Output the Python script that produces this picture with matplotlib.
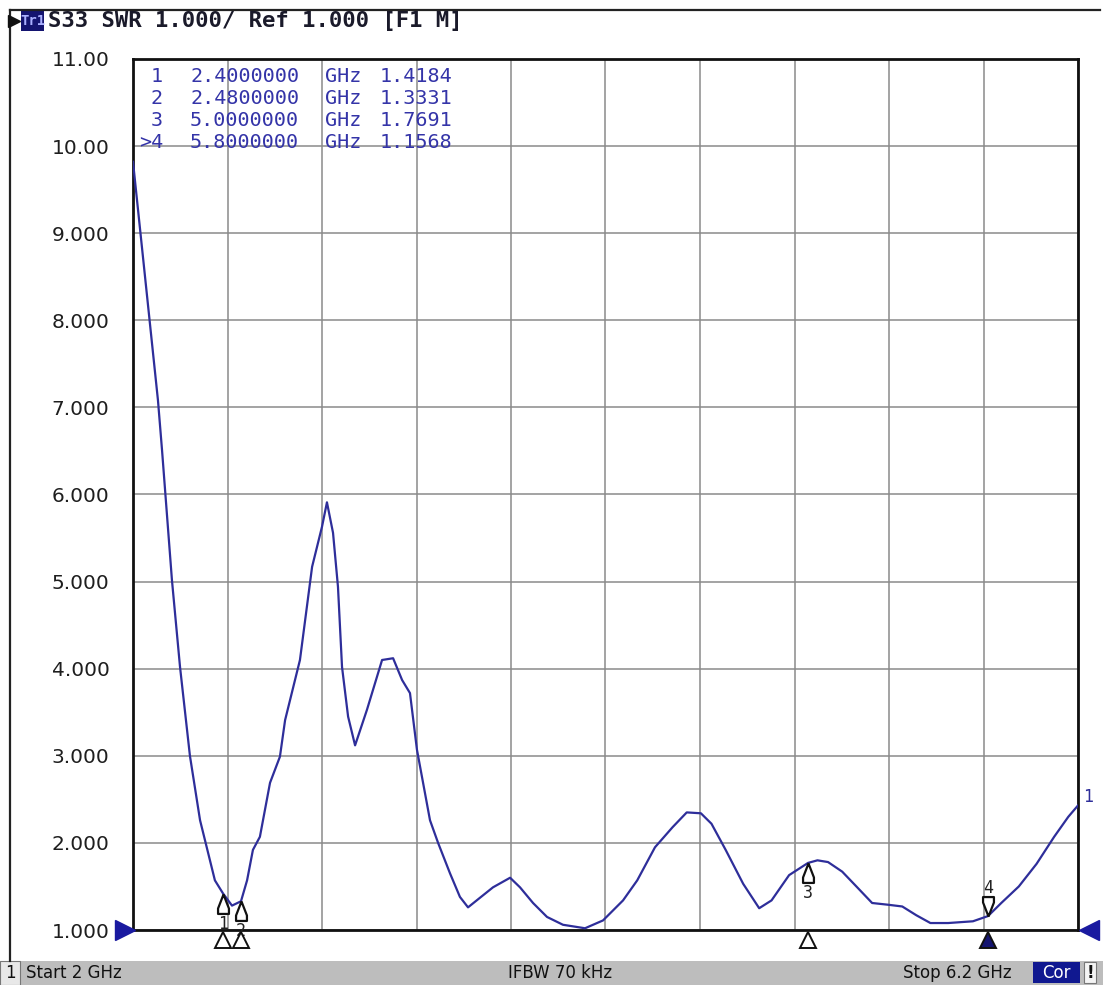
import numpy as np
import matplotlib
matplotlib.use('Agg')
import matplotlib.pyplot as plt
from matplotlib import transforms
from matplotlib.path import Path
from matplotlib.patches import Rectangle
from matplotlib.lines import Line2D

# trace S33 SWR
freq_ghz = [2.000, 2.111, 2.129, 2.173, 2.209, 2.253, 2.298, 2.364, 2.400, 2.440,
            2.480, 2.507, 2.533, 2.564, 2.609, 2.653, 2.676, 2.742, 2.796, 2.840,
            2.862, 2.889, 2.911, 2.929, 2.956, 2.987, 3.040, 3.107, 3.156, 3.196,
            3.231, 3.262, 3.320, 3.356, 3.409, 3.453, 3.489, 3.542, 3.600, 3.676,
            3.720, 3.778, 3.840, 3.911, 4.009, 4.089, 4.178, 4.241, 4.320, 4.398,
            4.461, 4.524, 4.571, 4.634, 4.712, 4.783, 4.838, 4.916, 5.000, 5.042,
            5.089, 5.152, 5.215, 5.285, 5.356, 5.419, 5.481, 5.544, 5.623, 5.733,
            5.800, 5.859, 5.937, 6.016, 6.094, 6.157, 6.200]
swr = [9.82, 7.08, 6.51, 5.02, 4.02, 3.00, 2.26, 1.57, 1.42, 1.28,
       1.33, 1.57, 1.92, 2.07, 2.69, 2.99, 3.41, 4.10, 5.17, 5.63,
       5.91, 5.56, 4.94, 4.02, 3.45, 3.12, 3.53, 4.10, 4.12, 3.87,
       3.72, 3.07, 2.26, 2.00, 1.65, 1.38, 1.26, 1.37, 1.49, 1.60,
       1.49, 1.31, 1.15, 1.06, 1.02, 1.11, 1.34, 1.57, 1.95, 2.18,
       2.35, 2.34, 2.22, 1.92, 1.53, 1.25, 1.34, 1.63, 1.77, 1.80,
       1.78, 1.67, 1.50, 1.31, 1.29, 1.27, 1.17, 1.08, 1.08, 1.10,
       1.16, 1.31, 1.50, 1.76, 2.07, 2.30, 2.43]

# markers
marker_ids = ['1', '2', '3', '4']
marker_freq = [2.4, 2.48, 5.0, 5.8]
marker_swr = [1.4184, 1.3331, 1.7691, 1.1568]
active_marker = 3

start_ghz, stop_ghz = 2.0, 6.2
ref_level = 1.0
y_ticks = [1, 2, 3, 4, 5, 6, 7, 8, 9, 10, 11]
y_ticklabels = ['1.000', '2.000', '3.000', '4.000', '5.000', '6.000',
                '7.000', '8.000', '9.000', '10.00', '11.00']

TRACE = '#2e2e9a'
NAVY = '#141470'
MONO = 'DejaVu Sans Mono'

W, H = 1103, 985
fig = plt.figure(figsize=(W / 100, H / 100), dpi=100)
fig.patch.set_facecolor('white')
ax = fig.add_axes([133 / W, 55 / H, 945 / W, 871 / H])

ax.set_xlim(start_ghz, stop_ghz)
ax.set_ylim(1, 11)
ax.set_xticks(np.linspace(start_ghz, stop_ghz, 11))
ax.set_xticklabels([])
ax.set_yticks(y_ticks)
ax.set_yticklabels(y_ticklabels, fontsize=14.5, color='#1e1e1e', family='DejaVu Sans')
ax.tick_params(length=0, pad=17)
ax.grid(True, color='#8a8a8a', lw=1.1)
for s in ax.spines.values():
    s.set_linewidth(2)
    s.set_color('#111111')

ax.plot(freq_ghz, swr, color=TRACE, lw=1.6, zorder=3)

# marker symbols on the trace
up_mark = Path([(0, 0), (-0.28, -0.72), (-0.28, -1), (0.28, -1), (0.28, -0.72), (0, 0)])
dn_mark = Path([(0, 0), (-0.28, 0.72), (-0.28, 1), (0.28, 1), (0.28, 0.72), (0, 0)])
for i, (mid, f, v) in enumerate(zip(marker_ids, marker_freq, marker_swr)):
    if i == active_marker:
        ax.plot([f], [v], marker=dn_mark, ms=28, mfc='white', mec='#111111', mew=1.6,
                ls='none', zorder=5, clip_on=False)
        ax.annotate(mid, (f, v), xytext=(0, 28), textcoords='offset pixels',
                    ha='center', va='center', fontsize=12, color='#222222', family=MONO)
    else:
        ax.plot([f], [v], marker=up_mark, ms=28, mfc='white', mec='#111111', mew=1.6,
                ls='none', zorder=5, clip_on=False)
        ax.annotate(mid, (f, v), xytext=(0, -30), textcoords='offset pixels',
                    ha='center', va='center', fontsize=12, color='#222222', family=MONO)

# stimulus markers under the x axis
bx = transforms.blended_transform_factory(ax.transData, ax.transAxes)
for i, f in enumerate(marker_freq):
    face = NAVY if i == active_marker else 'white'
    ax.plot([f], [-0.012], marker='^', ms=11, mfc=face, mec='#111111', mew=1.4,
            transform=bx, clip_on=False, ls='none', zorder=6)

# reference level arrows
by = transforms.blended_transform_factory(ax.transAxes, ax.transData)
ax.plot([-0.008], [ref_level], marker='>', ms=14, color='#1a1aa0', transform=by,
        clip_on=False, zorder=6)
ax.plot([1.012], [ref_level], marker='<', ms=14, color='#1a1aa0', transform=by,
        clip_on=False, zorder=6)
ax.annotate('1', (stop_ghz, swr[-1]), xytext=(10, 8), textcoords='offset pixels',
            ha='center', va='center', fontsize=12, color=TRACE, family=MONO,
            annotation_clip=False)

# marker table
row_y = [77, 99, 121, 143]
for k in range(len(marker_ids)):
    yy = 1 - row_y[k] / H
    lab = ('>' if k == active_marker else '') + marker_ids[k]
    fig.text(163 / W, yy, lab, ha='right', va='center', fontsize=14.5,
             color='#3434a8', family=MONO)
    fig.text(190 / W, yy, '%.7f' % marker_freq[k], ha='left', va='center',
             fontsize=14.5, color='#3434a8', family=MONO)
    fig.text(325 / W, yy, 'GHz', ha='left', va='center', fontsize=14.5,
             color='#3434a8', family=MONO)
    fig.text(380 / W, yy, '%.4f' % marker_swr[k], ha='left', va='center',
             fontsize=14.5, color='#3434a8', family=MONO)

# outer frame
fig.add_artist(Line2D([10 / W, 10 / W], [24 / H, 1 - 10 / H], color='#222222', lw=1.6))
fig.add_artist(Line2D([10 / W, 1100 / W], [1 - 10 / H, 1 - 10 / H], color='#222222', lw=1.6))

# header
fig.add_artist(Line2D([14 / W], [1 - 21 / H], marker='>', ms=8, color='#111111'))
fig.patches.append(Rectangle((21 / W, 1 - 31 / H), 23 / W, 20 / H, transform=fig.transFigure,
                             facecolor=NAVY, edgecolor='none'))
fig.text(32.5 / W, 1 - 21 / H, 'Tr1', ha='center', va='center', fontsize=10,
         color='#aab0ff', family=MONO, fontweight='bold')
fig.text(48 / W, 1 - 21 / H, 'S33 SWR 1.000/ Ref 1.000 [F1 M]', ha='left', va='center',
         fontsize=16, color='#1a1a2a', family=MONO, fontweight='bold')

# status bar
fig.patches.append(Rectangle((0, 0), 1, 24 / H, transform=fig.transFigure,
                             facecolor='#bdbdbd', edgecolor='none'))
fig.patches.append(Rectangle((0, 0), 20 / W, 24 / H, transform=fig.transFigure,
                             facecolor='#e8e8e8', edgecolor='#777777', lw=0.8))
fig.text(10 / W, 12 / H, '1', ha='center', va='center', fontsize=12, color='#111111')
fig.text(26 / W, 12 / H, 'Start 2 GHz', ha='left', va='center', fontsize=12, color='#111111')
fig.text(560 / W, 12 / H, 'IFBW 70 kHz', ha='center', va='center', fontsize=12, color='#111111')
fig.text(1012 / W, 12 / H, 'Stop 6.2 GHz', ha='right', va='center', fontsize=12, color='#111111')
fig.patches.append(Rectangle((1033 / W, 2 / H), 47 / W, 21 / H, transform=fig.transFigure,
                             facecolor='#101890', edgecolor='none'))
fig.text(1056 / W, 12 / H, 'Cor', ha='center', va='center', fontsize=12, color='white')
fig.patches.append(Rectangle((1084 / W, 2 / H), 12 / W, 21 / H, transform=fig.transFigure,
                             facecolor='#f4f4f4', edgecolor='#777777', lw=0.8))
fig.text(1090 / W, 12 / H, '!', ha='center', va='center', fontsize=12, color='#111111',
         fontweight='bold')

fig.savefig('out.png', dpi=100)
